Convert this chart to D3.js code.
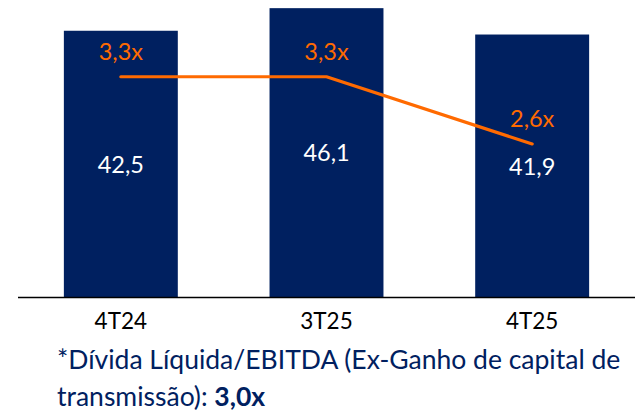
<!DOCTYPE html>
<html>
<head>
<meta charset="utf-8">
<script src="https://cdn.jsdelivr.net/npm/d3@7"></script>
<style>
  html, body { margin: 0; padding: 0; background: #fff; }
  svg { display: block; }
</style>
</head>
<body>
<svg id="chart" width="641" height="418"></svg>
<script>
const categories = ["4T24", "3T25", "4T25"];
const debtValues = [42.5, 46.1, 41.9];
const leverageValues = [3.3, 3.3, 2.6];
const footnoteLine1 = "*Dívida Líquida/EBITDA (Ex-Ganho de capital de";
const footnoteLine2 = "transmissão): ";
const footnoteValue = "3,0x";

const W = 641, H = 418;
const axisLeft = 18, axisRight = 635, plotBottom = 297.5;
const navy = "#002060", orange = "#FF6A00";
const font = "Lato, 'Open Sans', sans-serif";

const locale = d3.formatLocale({decimal: ",", thousands: ".", grouping: [3], currency: ["", ""]});
const fmt1 = locale.format(".1f");

const svg = d3.select("#chart");

const x = d3.scaleBand().domain(categories).range([axisLeft, axisRight])
  .paddingInner(0.446).paddingOuter(0.223);
const y = d3.scaleLinear().domain([0, 47.4]).range([plotBottom, 0]);
const y2 = d3.scaleLinear().domain([1, 4.1]).range([plotBottom, 0]);

const data = categories.map((c, i) => ({c, v: debtValues[i], l: leverageValues[i]}));

// bars
svg.append("g").selectAll("rect").data(data).join("rect")
  .attr("x", d => x(d.c))
  .attr("y", d => y(d.v))
  .attr("width", x.bandwidth())
  .attr("height", d => y(0) - y(d.v))
  .attr("fill", navy);

// bar labels
svg.append("g").selectAll("text").data(data).join("text")
  .attr("x", d => x(d.c) + x.bandwidth() / 2)
  .attr("y", d => (y(d.v) + y(0)) / 2 + 8.5)
  .attr("text-anchor", "middle")
  .attr("font-family", font)
  .attr("font-size", 23.5)
  .attr("fill", "#fff")
  .text(d => fmt1(d.v));

// x axis
const xAxis = d3.axisBottom(x).tickSize(0).tickPadding(0);
const gx = svg.append("g").attr("transform", `translate(0,${plotBottom})`).call(xAxis);
gx.select(".domain").attr("d", `M${axisLeft},0H${axisRight}`).attr("stroke", "#000").attr("stroke-width", 1.6);
gx.selectAll(".tick text")
  .attr("y", 31.5)
  .attr("dy", 0)
  .attr("font-family", font)
  .attr("font-size", 22.5)
  .attr("fill", "#000");

// line
const line = d3.line().x(d => x(d.c) + x.bandwidth() / 2).y(d => y2(d.l));
svg.append("path").datum(data)
  .attr("d", line)
  .attr("fill", "none")
  .attr("stroke", orange)
  .attr("stroke-width", 3.2)
  .attr("stroke-linecap", "round")
  .attr("stroke-linejoin", "round");

svg.append("g").selectAll("text").data(data).join("text")
  .attr("x", d => x(d.c) + x.bandwidth() / 2)
  .attr("y", d => y2(d.l) - 17)
  .attr("text-anchor", "middle")
  .attr("font-family", font)
  .attr("font-size", 23.5)
  .attr("fill", orange)
  .text(d => fmt1(d.l) + "x");

// footnote
const fn = svg.append("text")
  .attr("font-family", font)
  .attr("font-size", 26.5)
  .attr("fill", navy);
fn.append("tspan").attr("x", 57).attr("y", 369).text(footnoteLine1);
fn.append("tspan").attr("x", 57).attr("y", 406).text(footnoteLine2);
fn.append("tspan").attr("font-weight", "bold").text(footnoteValue);
</script>
</body>
</html>
